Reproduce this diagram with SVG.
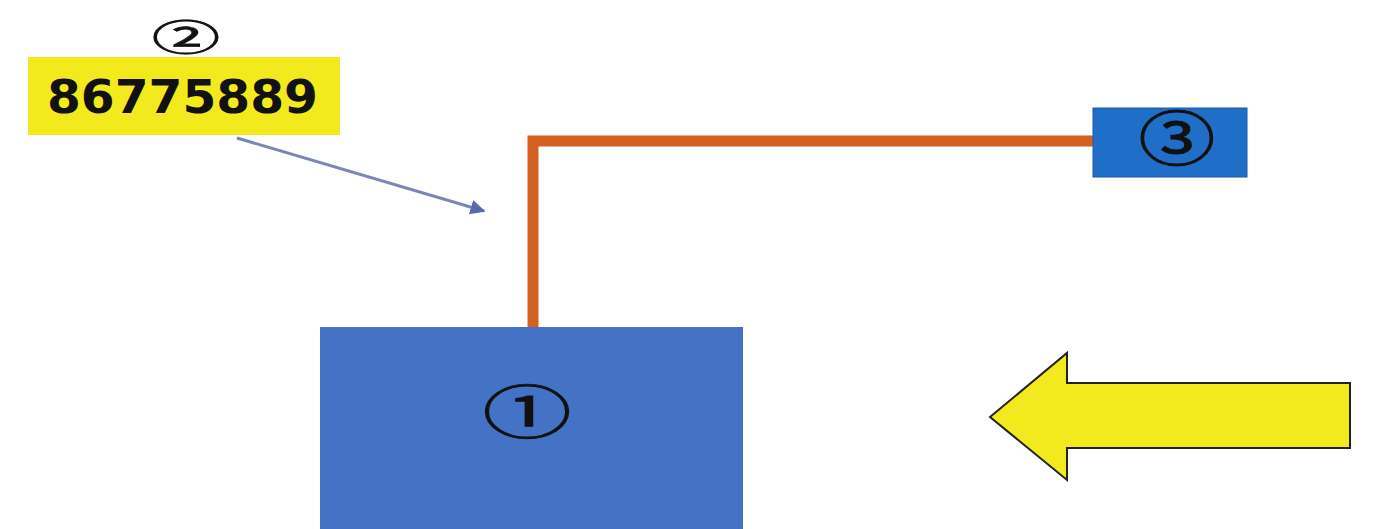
<svg xmlns="http://www.w3.org/2000/svg" width="1379" height="529" viewBox="0 0 1379 529">
<style>
.circ{font-family:"Noto Sans CJK SC","DejaVu Sans",sans-serif;fill:#111;stroke:#111;stroke-width:0.8;text-anchor:middle;}
.num{font-family:"DejaVu Sans","Liberation Sans",sans-serif;font-weight:bold;fill:#111;}
</style>
<defs>
<marker id="ah" viewBox="0 0 10 10" refX="9" refY="5" markerWidth="5" markerHeight="5" orient="auto">
<path d="M0,0 L10,5 L0,10 z" fill="#5a68a8"/>
</marker>
</defs>
<rect width="1379" height="529" fill="#ffffff"/>
<g id="connectors">
<polyline points="533,327 533,141 1094,141" fill="none" stroke="#d4601f" stroke-width="11"/>
<line x1="237" y1="138" x2="484" y2="211" stroke="#7a86b8" stroke-width="3" marker-end="url(#ah)"/>
</g>
<g id="node1">
<rect x="320" y="327" width="423" height="202" fill="#4472c4"/>
<text class="circ" transform="translate(527,433) scale(1.65,1.05)" font-size="54" x="0" y="0">①</text>
</g>
<g id="node2">
<text class="circ" transform="translate(186,51) scale(1.8,0.95)" font-size="38" x="0" y="0">②</text>
<rect x="28" y="57" width="312" height="78" fill="#f2ea1c"/>
<text class="num" x="47" y="113" font-size="46" textLength="271" lengthAdjust="spacingAndGlyphs">86775889</text>
</g>
<g id="node3">
<rect x="1093" y="108" width="154" height="69" fill="#1f6fc8" stroke="#1a5aa8" stroke-width="1"/>
<text class="circ" transform="translate(1177,161) scale(1.6,1.25)" font-size="48" x="0" y="0">③</text>
</g>
<g id="bigarrow">
<polygon points="990,417 1067,353 1067,383 1350,383 1350,448 1067,448 1067,480" fill="#f2ea1c" stroke="#222" stroke-width="2"/>
</g>
</svg>
